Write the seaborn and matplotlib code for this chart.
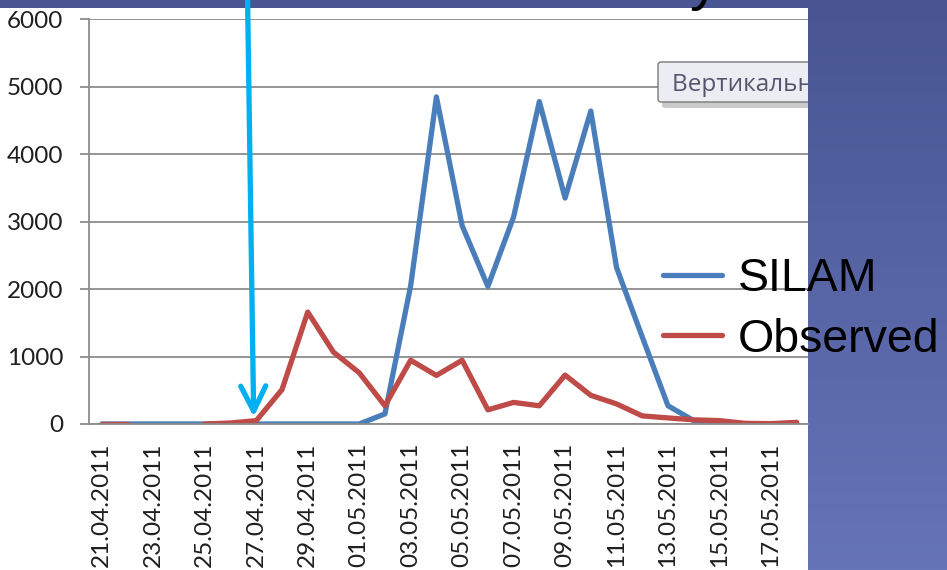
import numpy as np
import pandas as pd
import matplotlib.pyplot as plt
from matplotlib.patches import Rectangle, FancyBboxPatch
from matplotlib.transforms import Bbox, TransformedBbox
import seaborn as sns

# values
dates = ['21.04.2011', '22.04.2011', '23.04.2011', '24.04.2011', '25.04.2011',
         '26.04.2011', '27.04.2011', '28.04.2011', '29.04.2011', '30.04.2011',
         '01.05.2011', '02.05.2011', '03.05.2011', '04.05.2011', '05.05.2011',
         '06.05.2011', '07.05.2011', '08.05.2011', '09.05.2011', '10.05.2011',
         '11.05.2011', '12.05.2011', '13.05.2011', '14.05.2011', '15.05.2011',
         '16.05.2011', '17.05.2011', '18.05.2011']
silam = [0, 0, 0, 0, 0, 0, 0, 0, 0, 0,
         0, 150, 2050, 4850, 2940, 2040, 3070, 4780, 3350, 4640,
         2320, 1290, 270, 50, 0, 0, 0, 0]
observed = [0, 0, np.nan, np.nan, 0, 15, 50, 510, 1660, 1065,
            760, 270, 945, 720, 945, 210, 320, 270, 725, 425,
            298, 120, 90, 62, 50, 10, 5, 25]
series_names = ['SILAM', 'Observed']
colors = ['#4A7EBB', '#BE4B48']
y_ticks = [0, 1000, 2000, 3000, 4000, 5000, 6000]

# long table; empty cells split a series into separate pieces (gaps like Excel)
rows = []
for name, vals in zip(series_names, [silam, observed]):
    seg = 0
    for i, v in enumerate(vals):
        if np.isnan(v):
            seg += 1
            continue
        rows.append({'day': i, 'value': v, 'series': name, 'segment': f'{name}_{seg}'})
df = pd.DataFrame(rows)

sns.set_style('white')
plt.rcParams['font.family'] = ['Lato', 'DejaVu Sans']

W, H = 947, 570
fig = plt.figure(figsize=(W / 100, H / 100), dpi=100)

# slide background: blue gradient with the white chart area on top
bg = fig.add_axes([0, 0, 1, 1], zorder=0)
top_c = np.array([0x48, 0x55, 0x92]) / 255
bot_c = np.array([0x66, 0x74, 0xB8]) / 255
t = np.linspace(0, 1, H)[:, None, None]
bg.imshow(top_c * (1 - t) + bot_c * t, extent=[0, W, H, 0], aspect='auto')
bg.add_patch(Rectangle((0, 8), 808, H - 8, facecolor='white', edgecolor='none'))
bg.set_xlim(0, W)
bg.set_ylim(H, 0)
bg.axis('off')

# chart
ax = fig.add_axes([89 / W, 1 - 424 / H, (808 - 89) / W, (424 - 19.3) / H], zorder=1)
ax.patch.set_alpha(0)
sns.lineplot(data=df, x='day', y='value', hue='series', hue_order=series_names,
             units='segment', estimator=None, palette=colors, linewidth=3.8,
             solid_capstyle='round', solid_joinstyle='round', ax=ax)

grid_c = '#8c8c8c'
ax.set_xlim(-0.5, 27.44)
ax.set_ylim(0, 6000)
ax.set_yticks(y_ticks)
ax.grid(axis='y', color=grid_c, lw=1.3)
ax.grid(axis='x', visible=False)
for s in ['top', 'right']:
    ax.spines[s].set_visible(False)
for s in ['left', 'bottom']:
    ax.spines[s].set_color(grid_c)
    ax.spines[s].set_linewidth(1.3)

ax.set_xticks(range(0, len(dates), 2))
ax.set_xticklabels(dates[::2], rotation=90, va='top')
ax.set_xticks(np.arange(-0.5, len(dates) - 1, 2), minor=True)
ax.tick_params(axis='x', which='major', length=0, pad=13.5, labelsize=17.5, labelcolor='#1f1f1f')
ax.tick_params(axis='x', which='minor', length=6.5, width=1.3, color=grid_c)
ax.tick_params(axis='y', length=6.5, width=1.3, color=grid_c, pad=12, labelsize=17.5,
               labelcolor='#1f1f1f', left=True)
ax.set_xlabel('')
ax.set_ylabel('')

# legend sits over the slide, right of the chart
leg = ax.get_legend()
handles = leg.legend_handles
labels = [tx.get_text() for tx in leg.get_texts()]
leg.remove()
leg = ax.legend(handles, labels, loc='upper left', bbox_to_anchor=(663 / W, 1 - 257 / H),
                bbox_transform=fig.transFigure, frameon=False,
                prop={'family': 'Liberation Sans', 'size': 33.5},
                handlelength=1.27, handletextpad=0.34, labelspacing=0.36,
                borderpad=0, borderaxespad=0, labelcolor='black')
for h in leg.legend_handles:
    h.set_linewidth(3.8)

# cyan arrow pointing at 27.04
ax.annotate('', xy=(5.9, 105), xytext=(5.66, 6350),
            arrowprops=dict(arrowstyle='->', color='#00B0F0', lw=3.8, mutation_scale=45,
                            shrinkA=0, shrinkB=0),
            annotation_clip=False)

# Excel tooltip, cut off at the edge of the chart picture
ov = fig.add_axes([0, 0, 1, 1], zorder=2)
ov.set_xlim(0, W)
ov.set_ylim(H, 0)
ov.axis('off')
clip = TransformedBbox(Bbox.from_extents(0, 0, 808 / W, 1), fig.transFigure)
shadow = FancyBboxPatch((662, 67), 200, 41, boxstyle='round,pad=0,rounding_size=3',
                        facecolor='#8a8a8a', edgecolor='none', alpha=0.45)
box = FancyBboxPatch((658, 62), 200, 40, boxstyle='round,pad=0,rounding_size=3',
                     facecolor='#ececf3', edgecolor='#7a7a7a', lw=1)
for p in (shadow, box):
    ov.add_patch(p)
    p.set_clip_box(clip)
tip = ov.text(672, 91, 'Вертикальная ось', fontsize=17.5, family=['Open Sans', 'DejaVu Sans'],
              color='#55556e', va='baseline', clip_on=True)
tip.set_clip_box(clip)

# bottom of the slide title letter peeking in at the top
fig.text(690 / W, 1 + 1 / H, 'y', fontsize=42, family='Liberation Sans', color='black',
         va='baseline')

fig.savefig('out.png', dpi=100)
